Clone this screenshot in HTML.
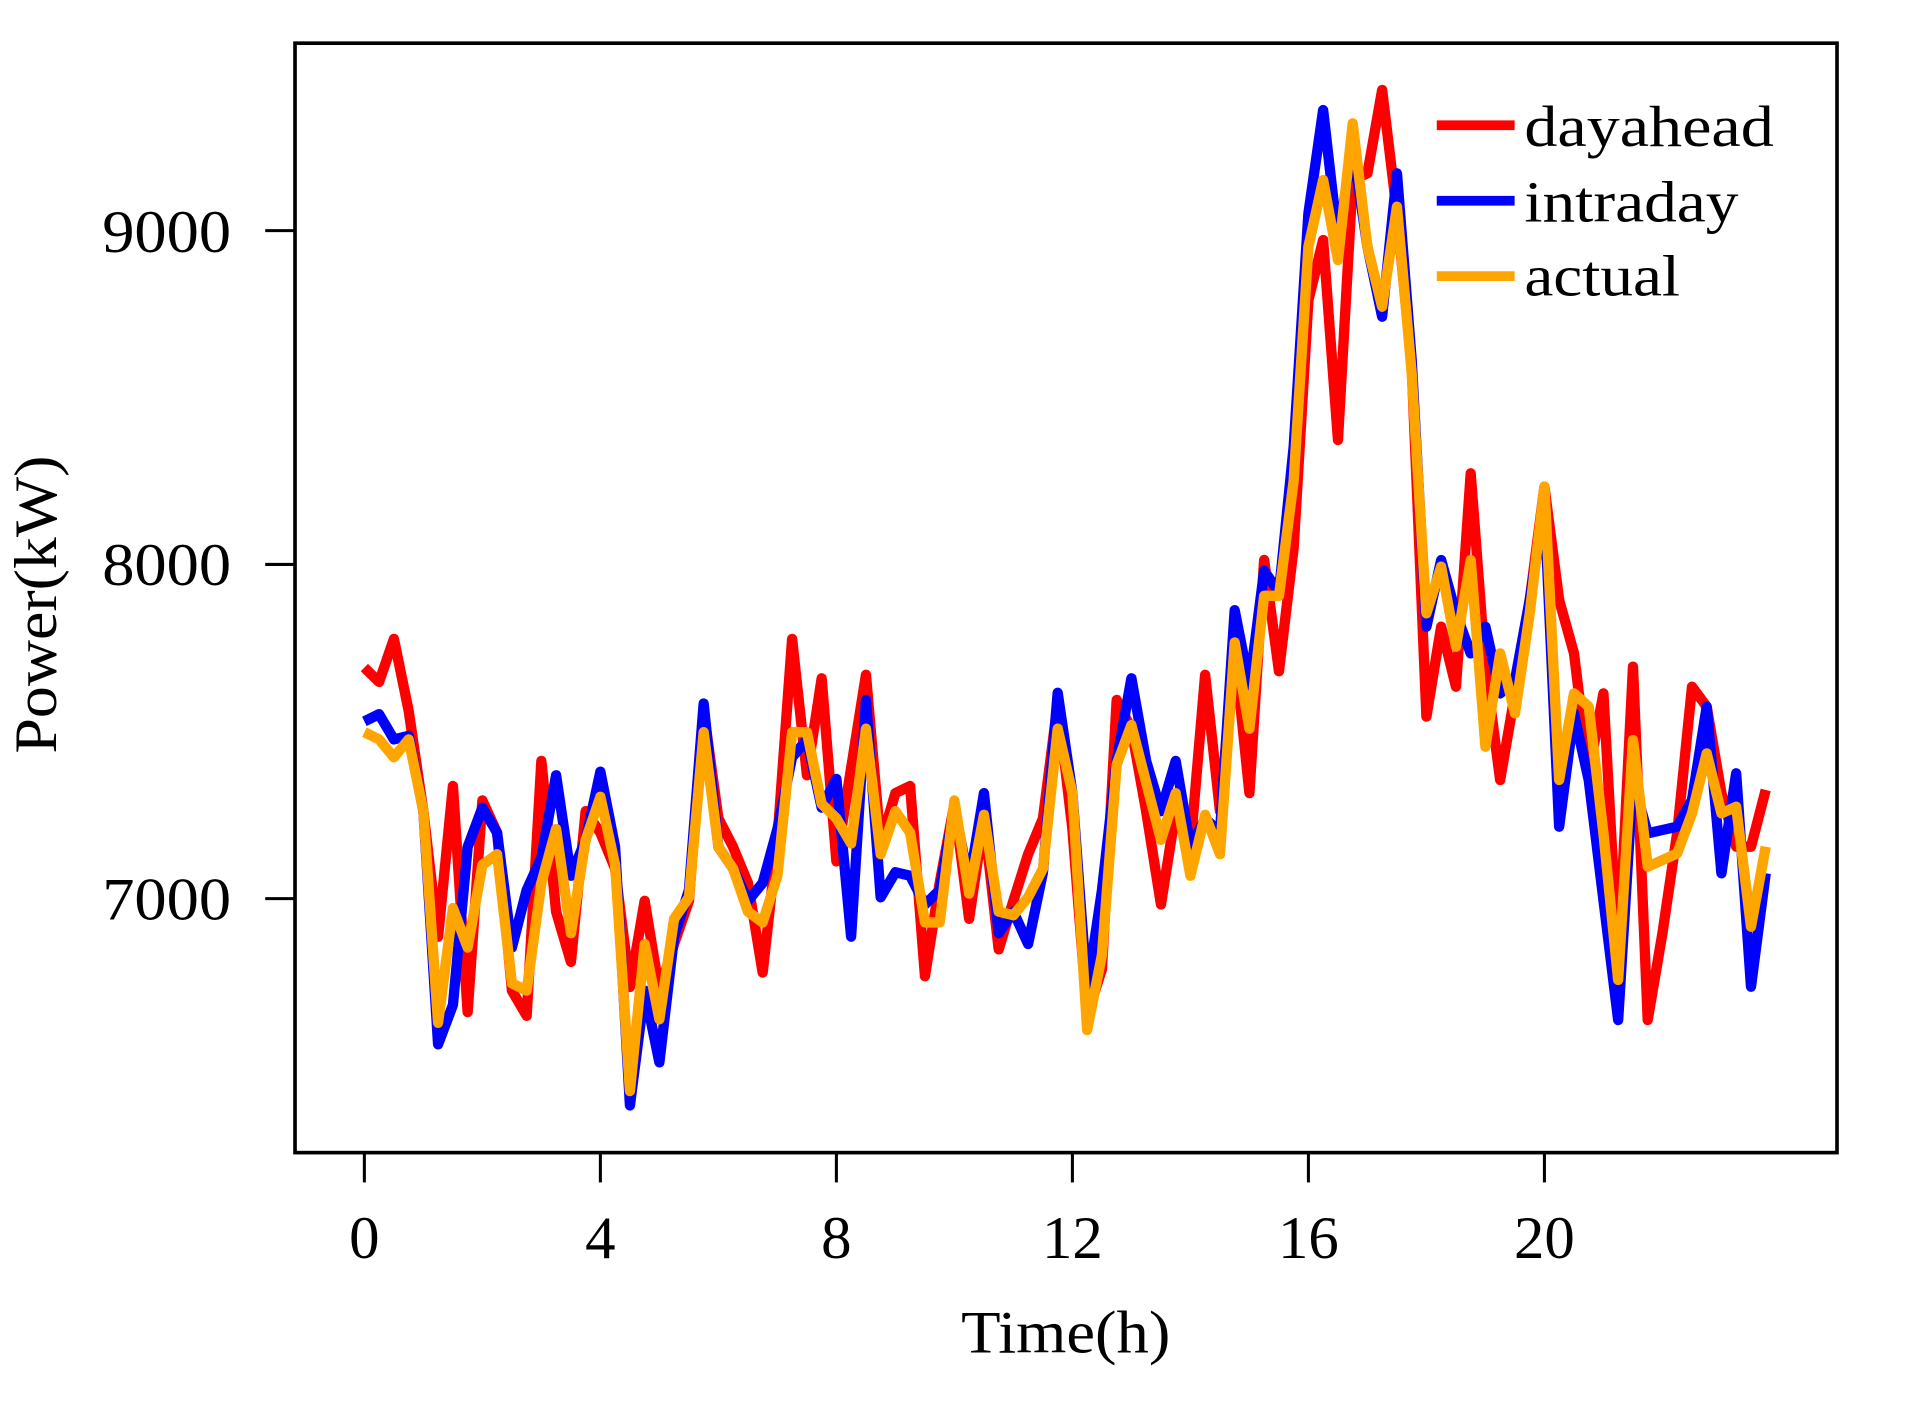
<!DOCTYPE html>
<html><head><meta charset="utf-8"><style>
html,body{margin:0;padding:0;background:#fff;}
svg{display:block;}
text{font-family:"Liberation Serif",serif;fill:#000;}
</style></head><body>
<svg width="1910" height="1402" viewBox="0 0 1570 1152.5" preserveAspectRatio="none">
<rect x="242.5" y="35.5" width="1267.5" height="912" fill="none" stroke="#000" stroke-width="3"/>
<g stroke="#000" stroke-width="2.5">
<line x1="218" y1="189.6" x2="242" y2="189.6"/><line x1="218" y1="464" x2="242" y2="464"/><line x1="218" y1="738.7" x2="242" y2="738.7"/>
<line x1="299.5" y1="948" x2="299.5" y2="972"/><line x1="493.5" y1="948" x2="493.5" y2="972"/><line x1="687.5" y1="948" x2="687.5" y2="972"/><line x1="881.5" y1="948" x2="881.5" y2="972"/><line x1="1075.5" y1="948" x2="1075.5" y2="972"/><line x1="1269.5" y1="948" x2="1269.5" y2="972"/>
</g>
<g font-size="50" text-anchor="end">
<text x="190" y="207" textLength="106" lengthAdjust="spacingAndGlyphs">9000</text>
<text x="190" y="481" textLength="106" lengthAdjust="spacingAndGlyphs">8000</text>
<text x="190" y="756" textLength="106" lengthAdjust="spacingAndGlyphs">7000</text>
</g>
<g font-size="50" text-anchor="middle">
<text x="299.5" y="1034">0</text><text x="493.5" y="1034">4</text><text x="687.5" y="1034">8</text><text x="881.5" y="1034">12</text><text x="1075.5" y="1034">16</text><text x="1269.5" y="1034">20</text>
<text x="876" y="1112" textLength="172" lengthAdjust="spacingAndGlyphs">Time(h)</text>
<text transform="translate(46,497) rotate(-90)" textLength="245" lengthAdjust="spacingAndGlyphs">Power(kW)</text>
</g>
<g id="lines" fill="none" stroke-width="8.5" stroke-linejoin="round"></g>
<g stroke-width="8">
<line x1="1181" y1="103" x2="1245" y2="103" stroke="#ff0000"/>
<line x1="1181" y1="165" x2="1245" y2="165" stroke="#0000ff"/>
<line x1="1181" y1="227" x2="1245" y2="227" stroke="#ffa500"/>
</g>
<g font-size="48">
<text x="1253" y="120" textLength="205" lengthAdjust="spacingAndGlyphs">dayahead</text>
<text x="1253" y="182" textLength="176" lengthAdjust="spacingAndGlyphs">intraday</text>
<text x="1253" y="243" textLength="128" lengthAdjust="spacingAndGlyphs">actual</text>
</g>
</svg>
<script>
function AB(a){return a.map(function(Y){return 460.3+Y*0.295;});}
function C(a){return a.map(function(Y){return 65.8+Y*0.548;});}
var red=AB([300,340,220,420,700,1050,630,1260,670,760,1200,1270,560,980,1120,700,760,860,1190,950,1200,1070,950,420,720,800,900,1150,780,220,600])
 .concat(AB([330,840,580,320,790,650,630,1160,900,680,1000,720,1085,950,820,720,400,750,1270,1140,390,470,700,960,700,800,320,700,250,650,0,310]))
 .concat([450]).concat(C([330,240,540,150,140,15,200,430,955,820,910,590,880,1050,920,780,610,780,860,1040,920,1320,880,1410,1280,1130,910,940,1070,1150,1150,1065]));
var blue=AB([450,430,500,490,700,1350,1240,800,690,760,1080,920,830,600,880,780,590,800,1520,1200,1400,1050,920,400,800,860,950,900,750,550,500])
 .concat(AB([690,610,1050,390,940,870,880,960,920,690,900,650,1040,980,1070,870,370,650,1200,920,560,330,560,700,560,800,720,760,140,350,30,90]))
 .concat([367]).concat(C([200,45,240,100,250,355,140,420,820,720,800,860,820,920,900,780,640,1120,950,1050,1230,1410,1050,1130,1125,1120,1080,940,1190,1040,1360,1190]));
var org=AB([480,500,550,500,700,1290,970,1080,850,820,1180,1200,900,750,1040,780,660,850,1480,1070,1280,1000,940,480,800,860,980,1010,880,480,480])
 .concat(AB([680,720,790,470,820,700,760,1010,1010,670,930,710,980,990,940,860,470,650,1310,1100,570,460,620,780,650,880,710,820,230,470,100,100]))
 .concat([395]).concat(C([250,150,270,65,250,340,190,440,800,730,850,720,1000,860,950,800,610,1050,920,940,1130,1350,990,1180,1170,1160,1100,1010,1100,1090,1270,1150]));
var g=document.getElementById('lines');
[[red,'#ff0000'],[blue,'#0000ff'],[org,'#ffa500']].forEach(function(a){
 var p=a[0].map(function(y,i){return (299.5+12.125*i).toFixed(1)+','+y.toFixed(1);}).join(' ');
 var e=document.createElementNS('http://www.w3.org/2000/svg','polyline');
 e.setAttribute('points',p);e.setAttribute('stroke',a[1]);g.appendChild(e);
});
</script>
</body></html>
